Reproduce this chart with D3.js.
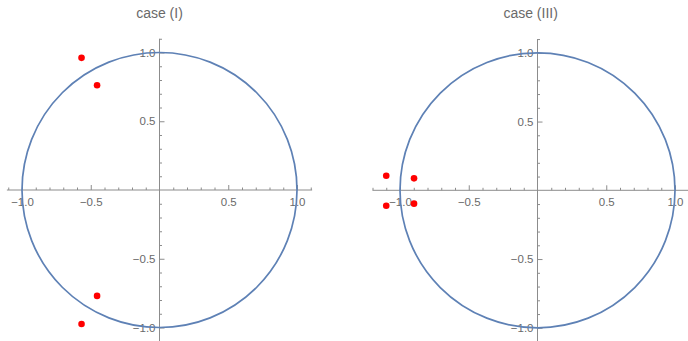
<!DOCTYPE html>
<html>
<head>
<meta charset="utf-8">
<script src="https://cdn.jsdelivr.net/npm/d3@7"></script>
<style>
  html, body { margin: 0; padding: 0; background: #fff; }
  svg { display: block; }
</style>
</head>
<body>
<svg id="chart" width="688" height="341"></svg>
<script>
// Panel titles
const titles = ["case (I)", "case (III)"];

// Horizontal plot ranges of each panel
const xDomains = [[-1.11, 1.11], [-1.2, 1.1]];
const yDomain = [-1.1, 1.1];

// Labelled ticks and minor ticks
const majorTicks = [-1.0, -0.5, 0.5, 1.0];
const minorTicksX = [
  [-1.1, -0.9, -0.8, -0.7, -0.6, -0.4, -0.3, -0.2, -0.1, 0.1, 0.2, 0.3, 0.4, 0.6, 0.7, 0.8, 0.9, 1.1],
  [-1.2, -1.1, -0.9, -0.8, -0.7, -0.6, -0.4, -0.3, -0.2, -0.1, 0.1, 0.2, 0.3, 0.4, 0.6, 0.7, 0.8, 0.9, 1.1]
];
const minorTicksY = [-1.1, -0.9, -0.8, -0.7, -0.6, -0.4, -0.3, -0.2, -0.1, 0.1, 0.2, 0.3, 0.4, 0.6, 0.7, 0.8, 0.9, 1.1];

// Points for case (I)
const caseIx = [-0.567, -0.454, -0.454, -0.567];
const caseIy = [0.961, 0.762, -0.770, -0.975];

// Points for case (III)
const caseIIIx = [-1.10, -0.898, -1.10, -0.898];
const caseIIIy = [0.106, 0.087, -0.112, -0.097];

const pointSets = [
  caseIx.map((x, i) => ({ x, y: caseIy[i] })),
  caseIIIx.map((x, i) => ({ x, y: caseIIIy[i] }))
];

// Layout: origin of each panel and pixels per unit
const unit = 137.5;
const origins = [{ cx: 159.5, cy: 190 }, { cx: 537.5, cy: 190.3 }];

const axisColor = "#8c8c8c";
const textColor = "#6a6a6a";
const fontFamily = "'Liberation Sans', Arial, sans-serif";

const svg = d3.select("#chart");

titles.forEach((title, p) => {
  const o = origins[p];
  const xd = xDomains[p];
  const x = d3.scaleLinear().domain(xd)
    .range([o.cx + xd[0] * unit, o.cx + xd[1] * unit]);
  const y = d3.scaleLinear().domain(yDomain)
    .range([o.cy - yDomain[0] * unit, o.cy - yDomain[1] * unit]);

  const g = svg.append("g");
  const fmt = d3.format(".1f");

  // x axis: minor ticks, then labelled ticks pointing upward
  const gxMinor = g.append("g")
    .attr("transform", `translate(0,${y(0)})`)
    .call(d3.axisBottom(x).tickValues(minorTicksX[p]).tickSize(-2.5).tickFormat(""));
  const gx = g.append("g")
    .attr("transform", `translate(0,${y(0)})`)
    .call(d3.axisBottom(x).tickValues(majorTicks).tickSize(-5).tickPadding(7.5).tickFormat(fmt));

  // y axis: minor ticks, then labelled ticks pointing right
  const gyMinor = g.append("g")
    .attr("transform", `translate(${x(0)},0)`)
    .call(d3.axisLeft(y).tickValues(minorTicksY).tickSize(-2.5).tickFormat(""));
  const gy = g.append("g")
    .attr("transform", `translate(${x(0)},0)`)
    .call(d3.axisLeft(y).tickValues(majorTicks).tickSize(-5).tickPadding(4).tickFormat(fmt));

  [gxMinor, gx, gyMinor, gy].forEach(a => {
    a.select(".domain").attr("stroke", axisColor).attr("stroke-width", 1);
    a.selectAll(".tick line").attr("stroke", axisColor).attr("stroke-width", 1);
    a.selectAll(".tick text")
      .attr("fill", textColor)
      .style("font-family", fontFamily)
      .style("font-size", "11.5px");
  });
  gxMinor.select(".domain").remove();
  gyMinor.select(".domain").remove();
  gx.select(".domain").attr("d", `M${x.range()[0]},0H${x.range()[1]}`);
  gy.select(".domain").attr("d", `M0,${y.range()[0]}V${y.range()[1]}`);

  // Unit circle
  g.append("circle")
    .attr("cx", x(0))
    .attr("cy", y(0))
    .attr("r", x(1) - x(0))
    .attr("fill", "none")
    .attr("stroke", "#5e81b5")
    .attr("stroke-width", 1.7);

  // Points
  g.selectAll("circle.pt")
    .data(pointSets[p])
    .join("circle")
    .attr("class", "pt")
    .attr("cx", d => x(d.x))
    .attr("cy", d => y(d.y))
    .attr("r", 3.3)
    .attr("fill", "#ff0000");

  // Title
  g.append("text")
    .attr("x", (x.range()[0] + x.range()[1]) / 2)
    .attr("y", 18)
    .attr("text-anchor", "middle")
    .attr("fill", textColor)
    .style("font-family", fontFamily)
    .style("font-size", "14px")
    .text(title);
});
</script>
</body>
</html>
